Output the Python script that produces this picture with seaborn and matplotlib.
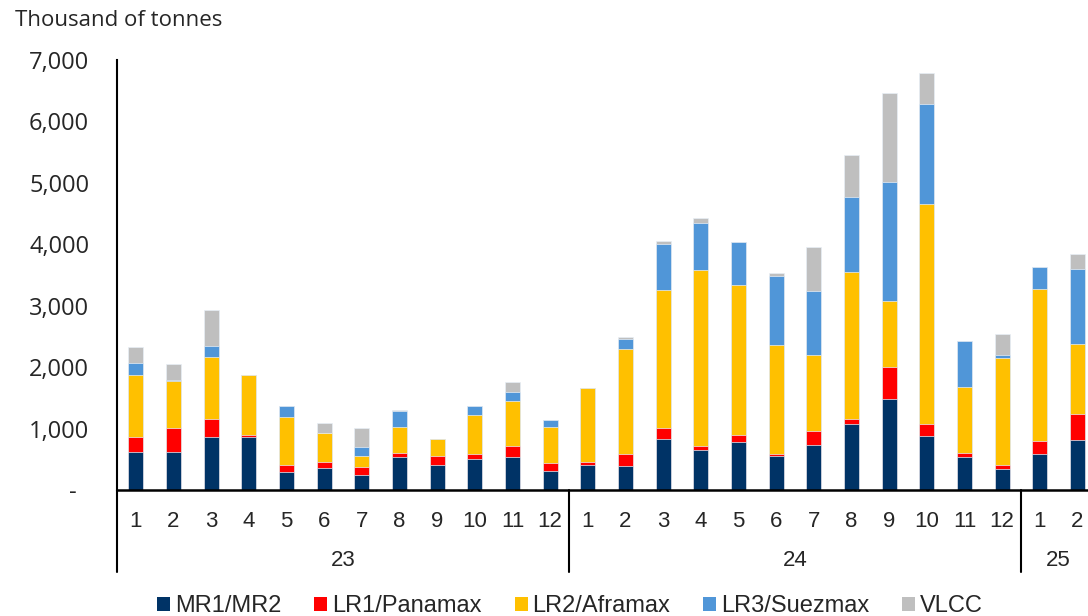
import numpy as np
import pandas as pd
import matplotlib
matplotlib.use("Agg")
import matplotlib.pyplot as plt
import matplotlib.transforms as mtransforms
from matplotlib.patches import Patch
import seaborn as sns

# ---------------- data ----------------
years = ["23"] * 12 + ["24"] * 12 + ["25"] * 2
months = [str(m) for m in range(1, 13)] * 2 + ["1", "2"]
mr = [614, 619, 858, 858, 293, 353, 239, 532, 402, 500, 532, 314,
      412, 396, 825, 656, 786, 549, 737, 1079, 1476, 884, 532, 337,
      586, 809]
lr1 = [254, 395, 303, 42, 119, 108, 131, 75, 156, 91, 189, 130,
       39, 195, 189, 65, 109, 37, 228, 77, 531, 195, 75, 75,
       217, 428]
lr2 = [1004, 760, 1009, 972, 781, 472, 183, 423, 277, 630, 728, 582,
       1209, 1704, 2247, 2855, 2442, 1774, 1233, 2393, 1070, 3577, 1075, 1742,
       2469, 1145]
lr3 = [200, 17, 179, 0, 174, 0, 152, 261, 0, 146, 151, 109,
       0, 168, 749, 765, 700, 1129, 1046, 1216, 1937, 1628, 748, 49,
       353, 1211]
vlcc = [261, 265, 581, 0, 0, 153, 304, 16, 0, 0, 153, 0,
        0, 28, 43, 87, 0, 38, 712, 683, 1444, 504, 0, 336,
        0, 249]
series_names = ["MR1/MR2", "LR1/Panamax", "LR2/Aframax", "LR3/Suezmax", "VLCC"]
colors = ["#003366", "#FF0000", "#FFC000", "#5096D8", "#BFBFBF"]
year_labels = ["23", "24", "25"]
y_ticks = [0, 1000, 2000, 3000, 4000, 5000, 6000, 7000]

# ---------------- figure ----------------
sns.set_theme(style="white")
plt.rcParams["font.family"] = ["Liberation Sans", "DejaVu Sans"]

W, H = 1088, 616
fig = plt.figure(figsize=(W / 100, H / 100), dpi=100)
ax_left, ax_right, ax_top, ax_bot = 117, 1088, 60, 490
ax = fig.add_axes([ax_left / W, 1 - ax_bot / H, (ax_right - ax_left) / W, (ax_bot - ax_top) / H])

cats = [f"{y}-{m}" for y, m in zip(years, months)]
df = pd.DataFrame({"cat": cats, "MR1/MR2": mr, "LR1/Panamax": lr1,
                   "LR2/Aframax": lr2, "LR3/Suezmax": lr3, "VLCC": vlcc})
cum = df[series_names].cumsum(axis=1)

# draw stacked bars as layered cumulative bars (top layer first)
for name, col in reversed(list(zip(series_names, colors))):
    sns.barplot(x=df["cat"], y=cum[name], order=cats, color=col, width=0.4,
                saturation=1, edgecolor="#e8eef5", linewidth=0.5, ax=ax)

ax.set_xlim(-0.5, 25.28)
ax.set_ylim(0, 7000)
ax.set_xlabel("")
ax.set_ylabel("")

ax.set_yticks(y_ticks)
ax.set_yticklabels(["-  " if v == 0 else f"{v:,}" for v in y_ticks],
                   fontsize=17, family=["Open Sans", "DejaVu Sans"])
ax.tick_params(axis="y", length=0, pad=20)
ax.set_xticks(range(len(cats)))
ax.set_xticklabels(months, fontsize=16)
ax.tick_params(axis="x", length=0, pad=15)

for s in ["top", "right"]:
    ax.spines[s].set_visible(False)
ax.spines["left"].set_linewidth(1.5)
ax.spines["bottom"].set_linewidth(1.8)
ax.spines["left"].set_color("black")
ax.spines["bottom"].set_color("black")

trans = mtransforms.blended_transform_factory(ax.transData, ax.transAxes)
sep_bottom = -(572 - 490) / (490 - 60)
for xs in [-0.5, 11.5, 23.5]:
    ax.plot([xs, xs], [0, sep_bottom], transform=trans, color="black",
            lw=1.5, clip_on=False)

year_y = -(560 - 490) / (490 - 60)
for yl in year_labels:
    idx = [i for i, y in enumerate(years) if y == yl]
    xc = (idx[0] + idx[-1]) / 2
    ax.text(xc, year_y, yl, transform=trans, ha="center", va="center", fontsize=16)

fig.text(15 / W, 1 - 20 / H, "Thousand of tonnes", ha="left", va="center",
         fontsize=16, family=["Open Sans", "DejaVu Sans"])

handles = [Patch(facecolor=c, edgecolor="none", label=n) for n, c in zip(series_names, colors)]
fig.legend(handles=handles, loc="center", bbox_to_anchor=(570 / W, 1 - 606 / H),
           ncol=5, frameon=False, fontsize=17, handlelength=0.55, handleheight=0.55,
           handletextpad=0.2, columnspacing=1.4, borderaxespad=0)

fig.savefig("out.png", dpi=100)
